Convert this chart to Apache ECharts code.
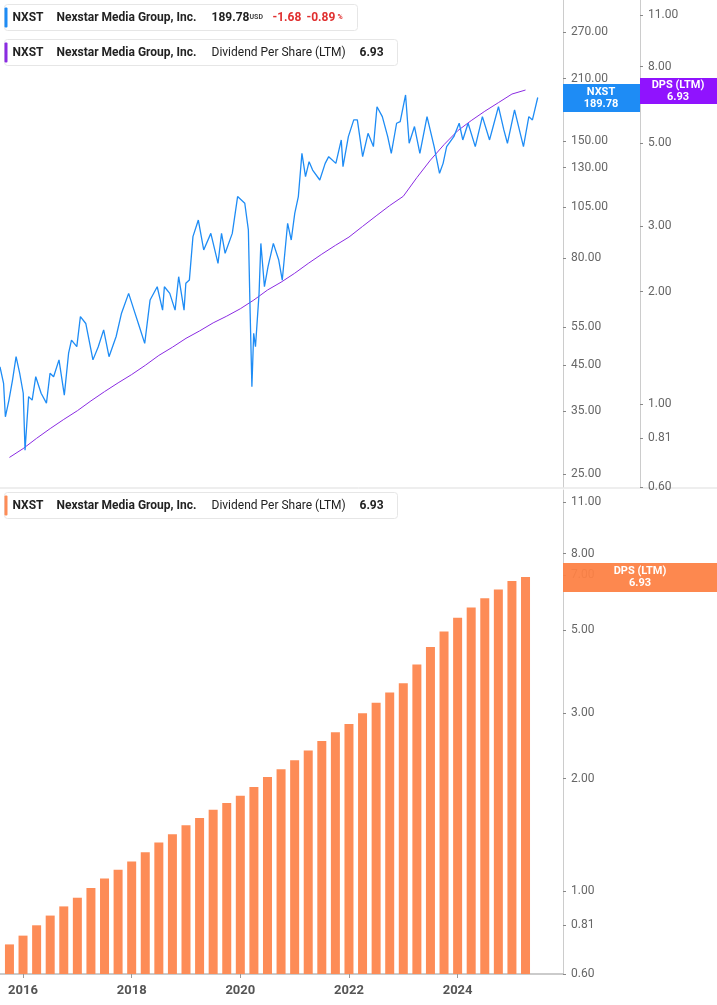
<!DOCTYPE html>
<html><head><meta charset="utf-8">
<script src="https://cdn.jsdelivr.net/npm/echarts@6/dist/echarts.min.js"></script>
<style>html,body{margin:0;padding:0;background:#fff}#c{width:717px;height:1005px}</style>
</head><body><div id="c"></div>
<script>
const priceT=[2015.576,2015.642,2015.675,2015.741,2015.807,2015.872,2015.938,2016.004,2016.037,2016.103,2016.168,2016.234,2016.333,2016.431,2016.497,2016.563,2016.662,2016.760,2016.839,2016.892,2016.990,2017.056,2017.155,2017.287,2017.385,2017.484,2017.583,2017.714,2017.813,2017.944,2018.043,2018.142,2018.240,2018.339,2018.470,2018.569,2018.602,2018.701,2018.799,2018.865,2018.964,2018.997,2019.062,2019.128,2019.227,2019.326,2019.457,2019.589,2019.654,2019.720,2019.852,2019.950,2020.082,2020.148,2020.181,2020.213,2020.246,2020.279,2020.345,2020.378,2020.444,2020.510,2020.608,2020.707,2020.772,2020.871,2020.937,2021.002,2021.068,2021.134,2021.200,2021.266,2021.331,2021.463,2021.562,2021.627,2021.759,2021.858,2021.890,2021.989,2022.088,2022.154,2022.252,2022.351,2022.450,2022.516,2022.614,2022.713,2022.779,2022.877,2022.943,2023.042,2023.108,2023.206,2023.305,2023.437,2023.568,2023.667,2023.733,2023.798,2023.930,2024.029,2024.095,2024.193,2024.325,2024.456,2024.588,2024.654,2024.752,2024.851,2024.917,2025.048,2025.212,2025.311,2025.377,2025.475,2025.574];
const priceV=[44.5,40.7,34.0,37.2,41.5,47.0,43.0,38.6,28.4,37.9,37.2,42.2,38.6,36.6,43.0,42.2,46.2,38.2,47.9,51.4,49.6,58.3,56.2,46.2,49.6,54.3,47.0,52.4,59.4,66.1,60.4,55.2,50.5,63.8,68.5,60.4,68.5,66.1,60.4,72.3,60.4,69.8,71.0,89.7,98.1,83.5,91.3,77.7,91.3,82.0,91.3,111.3,107.4,93.0,59.4,40.0,53.3,49.6,66.1,86.5,68.5,76.3,86.5,79.1,71.0,96.4,88.1,101.7,111.3,140.5,123.9,134.3,128.4,121.7,133.1,138.0,133.1,151.0,130.8,153.7,168.2,168.2,138.0,156.5,145.7,180.6,171.2,153.7,140.5,165.2,166.7,192.4,148.3,162.3,140.5,171.2,145.7,126.2,133.1,145.7,153.7,165.2,151.0,165.2,145.7,171.2,151.0,162.3,180.6,159.4,148.3,177.5,145.7,171.2,168.2,189.78];
const dpsStart=2015.75, dpsStep=0.25;
const dpsV=[0.72,0.76,0.81,0.86,0.91,0.96,1.02,1.08,1.14,1.20,1.27,1.35,1.42,1.50,1.57,1.65,1.72,1.80,1.90,2.02,2.12,2.24,2.38,2.52,2.66,2.80,2.99,3.19,3.40,3.60,4.04,4.50,4.95,5.39,5.74,6.08,6.41,6.76,6.93];
const yearTicks=[2016,2018,2020,2022,2024];
const priceTicks=[25,35,45,55,80,105,130,150,210,270];
const dpsTicks=[0.6,0.81,1,2,3,5,8,11];
const dpsTicksBottom=[0.6,0.81,1,2,3,5,7,8,11];
const barBase=0.6;

const dpsData=dpsV.map((v,i)=>[dpsStart+i*dpsStep,v]);
const priceData=priceT.map((t,i)=>[t,priceV[i]]);
const FONT='Roboto';
const lblStyle={color:'#666',fontSize:12,fontFamily:FONT,formatter:v=>(+v).toFixed(2),margin:8};
const tickStyle={show:true,length:3,lineStyle:{color:'#888'}};
function yax(gi,min,max,ticks,offset){
  return {type:'log',gridIndex:gi,position:'right',min,max,offset,
    axisLine:{show:true,lineStyle:{color:'#ccc'}},
    axisTick:Object.assign({customValues:ticks},tickStyle),
    axisLabel:Object.assign({customValues:ticks},lblStyle),
    splitLine:{show:false},minorTick:{show:false}};
}
const chart=echarts.init(document.getElementById('c'));
function legendBox(y,w,color,children){
  return {type:'group',left:4,top:y,z:50,children:[
    {type:'rect',shape:{x:0,y:0,width:w,height:26,r:3},style:{fill:'#fff',stroke:'#e6e6e6'}},
    {type:'rect',shape:{x:0,y:3,width:3,height:20,r:1},style:{fill:color}}
  ].concat(children)};
}
const T=(x,text,opt)=>({type:'text',x,y:13,style:Object.assign({text,fill:'#222',font:'bold 12px '+FONT,verticalAlign:'middle'},opt||{})});
chart.setOption({
  animation:false,
  grid:[{left:0,right:154,top:0,height:487},{left:0,right:154,top:490,height:484}],
  xAxis:[
    {type:'value',gridIndex:0,min:2015.576,max:2025.94,axisLine:{show:false},axisTick:{show:false},axisLabel:{show:false},splitLine:{show:false}},
    {type:'value',gridIndex:1,min:2015.576,max:2025.94,axisLine:{show:true,lineStyle:{color:'#bbb',width:1.5}},
      axisTick:{show:true,customValues:yearTicks,length:4,lineStyle:{color:'#999'}},
      axisLabel:{customValues:yearTicks,formatter:v=>String(v),color:'#555',fontWeight:'bold',fontSize:13,fontFamily:FONT,margin:10},splitLine:{show:false}}
  ],
  yAxis:[
    yax(0,23.3,320.8,priceTicks,0),
    yax(0,0.6,12.07,dpsTicks,77),
    yax(1,0.6,11.84,dpsTicksBottom,0)
  ],
  series:[
    {type:'line',xAxisIndex:0,yAxisIndex:1,data:dpsData,showSymbol:false,lineStyle:{color:'#8a2be2',width:1},z:2},
    {type:'line',xAxisIndex:0,yAxisIndex:0,data:priceData,showSymbol:false,lineStyle:{color:'#1e8cf5',width:1.3},z:3},
    {type:'custom',xAxisIndex:1,yAxisIndex:2,data:dpsData,encode:{x:0,y:1},
      renderItem:(params,api)=>{
        const top=api.coord([api.value(0),api.value(1)]);
        const bot=api.coord([api.value(0),barBase]);
        return {type:'rect',shape:{x:top[0]-4.5,y:top[1],width:9,height:bot[1]-top[1]},style:{fill:'#fd8c57'}};
      }}
  ],
  graphic:[
    legendBox(4,353,'#1e8cf5',[T(8,'NXST'),T(52,'Nexstar Media Group, Inc.'),T(207,'189.78'),T(245,'USD',{font:'bold 7px '+FONT,fill:'#444'}),T(268,'-1.68',{fill:'#e03030'}),T(302,'-0.89',{fill:'#e03030'}),T(333,'%',{font:'bold 7px '+FONT,fill:'#e03030'})]),
    legendBox(39,393,'#8a2be2',[T(8,'NXST'),T(52,'Nexstar Media Group, Inc.'),T(207,'Dividend Per Share (LTM)',{font:'12px '+FONT}),T(355,'6.93')]),
    legendBox(492,393,'#fd8c57',[T(8,'NXST'),T(52,'Nexstar Media Group, Inc.'),T(207,'Dividend Per Share (LTM)',{font:'12px '+FONT}),T(355,'6.93')]),
    {type:'rect',z:60,shape:{x:563,y:84,width:77,height:28},style:{fill:'#1e8cf5'}},
    {type:'text',z:61,x:601,y:98,style:{text:'NXST\n189.78',fill:'#fff',font:'bold 11px '+FONT,align:'center',verticalAlign:'middle',lineHeight:12}},
    {type:'rect',z:60,shape:{x:640,y:78,width:77,height:26},style:{fill:'#9013fe'}},
    {type:'text',z:61,x:678,y:91,style:{text:'DPS (LTM)\n6.93',fill:'#fff',font:'bold 11px '+FONT,align:'center',verticalAlign:'middle',lineHeight:12}},
    {type:'rect',z:60,shape:{x:563,y:563,width:154,height:29},style:{fill:'rgba(253,130,70,0.95)'}},
    {type:'text',z:61,x:640,y:577,style:{text:'DPS (LTM)\n6.93',fill:'#fff',font:'bold 11px '+FONT,align:'center',verticalAlign:'middle',lineHeight:12}},
    {type:'line',shape:{x1:0,y1:488,x2:717,y2:488},style:{stroke:'#ddd'}}
  ]
});
</script></body></html>
